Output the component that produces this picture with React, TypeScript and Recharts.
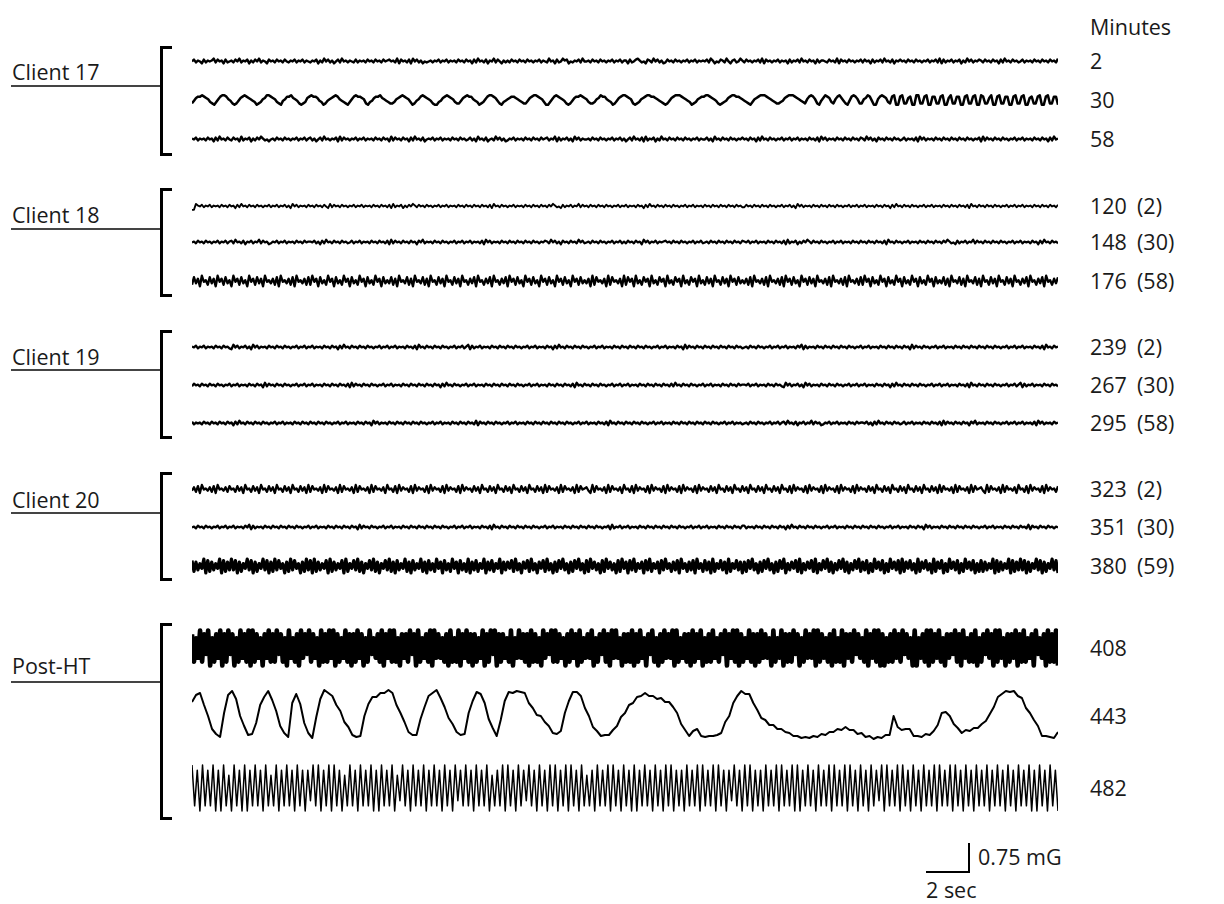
import React from 'react';
import { LineChart, Line, XAxis, YAxis } from 'recharts';

// right-hand labels (minutes), in trace order
const minuteLabels = ['2', '30', '58', '120', '148', '176', '239', '267', '295', '323', '351', '380', '408', '443', '482'];
const minuteNotes = ['', '', '', '(2)', '(30)', '(58)', '(2)', '(30)', '(58)', '(2)', '(30)', '(59)', '', '', ''];
const groupNames = ['Client 17', 'Client 18', 'Client 19', 'Client 20', 'Post-HT'];

// traces (digit strings: one sample per char)
const c17m2 =
  '46354263545736452634' + '53647354625364735426' + '45364536435463546354' + '35462537463524637453' +
  '54363545364536453645' + '64537264536274635243' + '45354635463545364536' + '45263745362547364253' +
  '53645364536453546354' + '37452634756243546374' + '45364536453546354635' + '52634675342653746352' +
  '36453645354635463545' + '46375243653742563475' + '36453546372645354635' + '45263546374536452635' +
  '54364537264536453546' + '36452635463745362546' + '45364536453546354637' + '26354635462537463546' +
  '53645364526374536453' + '46354536453645364537';
const c17m30 =
  '24677876532' + '13578875421' + '24678765431' + '23568876532' + '14577865421' + '23678776431' +
  '24567875432' + '13578776521' + '34677865432' + '23567876531' + '24578765421' + '13467876532' +
  '24678775431' + '23578876421' + '34567765432' + '24678876531' + '13578765421' + '24677876532' +
  '23568775431' + '24678876521' +
  '23567887765432' + '12467888765431' + '23567788765421' + '23467887765432' + '13567888765432' + '2346788876543' +
  '2578752' + '1468763' + '2578642' + '1478752' + '2568741' + '1578763' +
  '2781' + '1782' + '2671' + '1882' + '2781' + '1772' + '2781' + '1682' + '2771' + '1782' + '2781' +
  '1872' + '2681' + '1782' + '2771' + '1782' + '2781' + '1672' + '2781' + '1782' + '2771';
const c17m58 =
  '54635453645263745364' + '36452735462536475342' + '45364536453546354635' + '63524637453546273645' +
  '35463546354536453645' + '27364536452637453624' + '54635463545364536453' + '46352745362453746352' +
  '35463545364536453645' + '63547263546352746354' + '45364536453546354635' + '24637453627354625374' +
  '53645364536453546354' + '46352745364536453546' + '45364526374536453546' + '35463546354536453627' +
  '46354536453645364536' + '53746352645364536453' + '46354536274635453645' + '36453645364536453546' +
  '27364536453645354635' + '46354536453645263745';
const c18m120 =
  '00754635463545364536' + '45263745364536453546' + '35463546352746354536' + '45364536427364536453' +
  '54635463545364536453' + '62735462536475364536' + '45354635463545364536' + '45364536453627453645' +
  '35463545364536453645' + '36475342635463547364' + '53645364536453546354' + '63545364526374536453' +
  '64536453546354635453' + '64536453645364536453' + '36453645364536453546' + '35463527463545364536' +
  '45364536453546354635' + '46354536453645263745' + '36453645354635463545' + '36453645364536274536' +
  '45364536453546354635' + '46354536453645364536';
const c18m148 =
  '45364536453546354635' + '63745362546354736452' + '35463546354536453645' + '54635263745364536453' +
  '46354635453645364536' + '27364536453645264735' + '45364536453546354635' + '46354536274635453645' +
  '36453645364536453546' + '53746352645364537463' + '45364536453546354635' + '36453645274635463545' +
  '64536453645354635463' + '45364536453645364536' + '54635463545364536453' + '62735462536475364536' +
  '45354635463545364536' + '45364536453627453645' + '35463545364536453645' + '36475342635463547364' +
  '53645364536453546354' + '63545364526374536453';
const c18m176 =
  '27361845273618462735' + '18462735184627361845' + '36271845362718453627' + '28461735284617352846' +
  '17352846173528461735' + '37261845372618453726' + '18452736184527361845' + '26371845263718452637' +
  '18462735184627351846' + '27351846273518462735' + '36182745361827453618' + '27461835274618352746' +
  '18352746183527461835' + '27361845273618462735' + '36271845362718453627' + '18462735184627361845' +
  '36271845362718453627' + '28461735284617352846' + '17352846173528461735' + '37261845372618453726' +
  '18452736184527361845' + '26371845263718452637';
const c19m239 =
  '54635463545364536453' + '27463546352746354536' + '45364536453546354635' + '46354536453645263745' +
  '36453645364535463546' + '35463545364536274536' + '45364536453546354635' + '72635463545364536453' +
  '64536453546354635453' + '64526374536453645364' + '53546354635453645364' + '53645364536453546354' +
  '63545364527364536453' + '64536453645364536453' + '45364536453546354635' + '46354536472635453645' +
  '36453645364536453546' + '35463545364536453645' + '36452736453645354635' + '46354536453645364536' +
  '45364536453546354635' + '46354536453627453645';
const c19m267 =
  '36453645364536453546' + '35463545364536452736' + '45364536453546354635' + '46354536453645364536' +
  '27364536453645354635' + '46354536453645364536' + '45364526374536453546' + '35463545364536453645' +
  '36453645354635463545' + '36453645364536274536' + '45364536453546354635' + '46354536453645364536' +
  '45363745364536453546' + '35463545364536453645' + '54635463545364536453' + '27463546352746354536' +
  '45364536453546354635' + '46354536453645263745' + '36453645364535463546' + '35463545364536274536' +
  '45364536453546354635' + '72635463545364536453';
const c19m295 =
  '63545364536453645364' + '52637453645364536453' + '54635463545364536453' + '64536453645354635463' +
  '54536453645274635453' + '64536453645364536453' + '54635463545364536453' + '64537264536453645354' +
  '63546354536453645364' + '53645364536453546354' + '63545364536274536453' + '64536453645354635463' +
  '54536453645364536453' + '64536453546354635453' + '45364536453546354635' + '63745362546354736452' +
  '35463546354536453645' + '54635263745364536453' + '46354635453645364536' + '27364536453645264735' +
  '45364536453546354635' + '46354536274635453645';
const c20m323 =
  '36271845362718453627' + '45273618452736184527' + '36184527361845273618' + '27453618274536182745' +
  '36182745361827453618' + '45271836452718364527' + '18364527183645271836' + '45273618452736184527' +
  '36184527361845273618' + '27453618274536182745' + '63182745361827453618' + '45271836452718364527' +
  '18364527183645271836' + '45273618452736184527' + '36184527361845273618' + '45271836452718364527' +
  '18364527183645271836' + '45273618452736184527' + '36184527361845273618' + '27453618274536182745' +
  '63182745361827453618' + '45271836452718364527';
const c20m351 =
  '45364536453546354635' + '46354536472635453645' + '36453645364536453546' + '35463545364536453645' +
  '36452736453645354635' + '46354536453645364536' + '45364536453546354635' + '46354536453627453645' +
  '36453645364536453546' + '35463545364536453645' + '36453645354627354635' + '46354536453645364536' +
  '45364536453546354635' + '46354536453645364536' + '63545364536453645364' + '52637453645364536453' +
  '54635463545364536453' + '64536453645354635463' + '54536453645274635453' + '64536453645364536453' +
  '54635463545364536453' + '64537264536453645354';
const c20m380 =
  '81726390817263908172' + '92807163928071639280' + '71928360719283607192' + '80917263809172638091' +
  '63829170638291706382' + '91708263917082639170' + '82619370826193708261' + '90728163907281639072' +
  '73819260738192607381' + '92607183926071839260' + '81937260819372608193' + '70829163708291637082' +
  '93617280936172809361' + '82709163827091638270' + '71839260718392607183' + '90627381906273819062' +
  '83917062839170628391' + '72806193728061937280' + '91738260917382609173' + '80619372806193728061' +
  '81726390817263908172' + '92807163928071639280';
const postM408 =
  '8172918390' + '7182908193' + '8071928190' + '9182708291' + '8193817092' + '7180928391' + '8270918192' +
  '9081729180' + '8192807193' + '7281908291' + '9170828193' + '8091728190' + '9282718091' + '7190829180' +
  '8172908193' + '9081827190' + '7292818091' + '8170928391' + '9182708192' + '8091728290' + '7183918092' +
  '9270818190' + '8192708391' + '7081928290' + '9172818091' + '8290718192' + '7183908291' + '9081729180' +
  '8192827091' + '7290818193' + '8071928290' + '9182718091' + '7190828193' + '8271908291' + '9080718192' +
  '8193827090' + '7281909182' + '9170828391' + '8092718190' + '7183928091' + '9270818290' + '8191728093' +
  '7280918190';
const postM443 = [
  40, 47, 49, 37, 26, 13, 8, 5, 29, 47, 51, 43, 26, 16, 7, 8, 19, 37, 45, 51,
  42, 31, 16, 9, 5, 39, 48, 38, 19, 9, 4, 25, 43, 52, 49, 46, 37, 31, 20, 15,
  7, 5, 6, 26, 38, 45, 45, 49, 49, 52, 49, 37, 29, 20, 10, 7, 7, 23, 35, 46,
  49, 52, 44, 35, 24, 18, 10, 7, 8, 29, 41, 50, 48, 39, 23, 14, 6, 22, 41, 50,
  49, 51, 50, 49, 39, 34, 27, 26, 20, 16, 9, 8, 11, 29, 41, 50, 50, 46, 34, 26,
  15, 11, 6, 7, 7, 12, 16, 25, 29, 37, 39, 45, 46, 49, 46, 46, 43, 44, 40, 40,
  35, 29, 18, 12, 6, 11, 13, 6, 5, 6, 6, 7, 9, 20, 26, 39, 46, 51, 48, 48,
  39, 32, 24, 22, 17, 17, 13, 13, 10, 9, 6, 6, 4, 5, 4, 6, 5, 8, 7, 10,
  10, 13, 12, 15, 12, 12, 8, 9, 5, 6, 3, 5, 4, 7, 7, 26, 15, 12, 13, 13,
  6, 6, 5, 8, 7, 11, 17, 29, 30, 26, 18, 14, 9, 12, 11, 14, 14, 18, 21, 28,
  35, 45, 48, 51, 50, 51, 46, 44, 34, 29, 22, 16, 6, 6, 5, 4, 10,
];
const postM482 =
  '9180918190' + '8091709180' + '9081918091' + '7190819180' + '9180829190' + '8190918071' + '9180918190' +
  '8091819072' + '9180918190' + '8191809180' + '9281918091' + '8190718190' + '9180918291' + '8091809190' +
  '8190918091' + '7180918190' + '9180918090' + '8191809180' + '9190818091' + '8190918190' + '9180829180' +
  '9190818091' + '8190918190' + '9081918091' + '8190918190' + '9180918091' + '8290918190' + '9180918091' +
  '8190918190' + '9180918091' + '8190819180' + '9180918190' + '8091809180';

const digits = (s: string) => s.split('').map(Number);

const traces = [
  { values: digits(c17m2), cy: 61, gain: 0.95, sw: 2.4, mid: 4.5, h: 30 },
  { values: digits(c17m30), cy: 100, gain: 1.35, sw: 2.5, mid: 4.5, h: 30 },
  { values: digits(c17m58), cy: 139, gain: 0.95, sw: 2.4, mid: 4.5, h: 30 },
  { values: digits(c18m120), cy: 206, gain: 0.85, sw: 1.9, mid: 4.5, h: 30 },
  { values: digits(c18m148), cy: 242, gain: 0.9, sw: 2.2, mid: 4.5, h: 30 },
  { values: digits(c18m176), cy: 281, gain: 1.5, sw: 2.4, mid: 4.5, h: 30 },
  { values: digits(c19m239), cy: 347, gain: 0.9, sw: 2.3, mid: 4.5, h: 30 },
  { values: digits(c19m267), cy: 385, gain: 0.9, sw: 2.3, mid: 4.5, h: 30 },
  { values: digits(c19m295), cy: 423, gain: 0.9, sw: 2.4, mid: 4.5, h: 30 },
  { values: digits(c20m323), cy: 489, gain: 1.15, sw: 2.3, mid: 4.5, h: 30 },
  { values: digits(c20m351), cy: 527, gain: 0.9, sw: 2.3, mid: 4.5, h: 30 },
  { values: digits(c20m380), cy: 566, gain: 1.55, sw: 3.2, mid: 4.5, h: 30 },
  { values: digits(postM408), cy: 648, gain: 3.9, sw: 4.6, mid: 4.5, h: 60 },
  { values: postM443, cy: 716, gain: 1.0, sw: 2.0, mid: 26, h: 70 },
  { values: digits(postM482), cy: 788, gain: 5.1, sw: 1.5, mid: 4.5, h: 70 },
];

const groups = [
  { top: 46, bottom: 156, lineY: 85, textY: 72 },
  { top: 188, bottom: 297, lineY: 228, textY: 215 },
  { top: 330, bottom: 439, lineY: 369, textY: 357 },
  { top: 472, bottom: 581, lineY: 512, textY: 500 },
  { top: 623, bottom: 820, lineY: 681, textY: 666 },
];

const FONT = '"Open Sans", "DejaVu Sans", sans-serif';
const FONT_SIZE = 21.5;
const TRACE_LEFT = 192;
const TRACE_WIDTH = 866;
const LABEL_X = 1090;

const Trace = ({ t }: any) => {
  const data = t.values.map((v: number, i: number) => ({ i, v }));
  const half = t.h / 2 / t.gain;
  return (
    <div style={{ position: 'absolute', left: TRACE_LEFT, top: t.cy - t.h / 2 }}>
      <LineChart width={TRACE_WIDTH} height={t.h} data={data} margin={{ top: 0, right: 0, bottom: 0, left: 0 }}>
        <XAxis dataKey="i" type="number" domain={[0, data.length - 1]} hide />
        <YAxis domain={[t.mid - half, t.mid + half]} hide />
        <Line
          dataKey="v"
          type="linear"
          stroke="#000"
          strokeWidth={t.sw}
          strokeLinejoin="round"
          dot={false}
          isAnimationActive={false}
        />
      </LineChart>
    </div>
  );
};

const text = (left: number, cy: number, s: string, size = FONT_SIZE) => (
  <div
    key={`${s}-${left}-${cy}`}
    style={{
      position: 'absolute',
      left,
      top: cy - size * 0.7,
      fontFamily: FONT,
      fontSize: size,
      lineHeight: `${size * 1.4}px`,
      color: '#1a1a1a',
      whiteSpace: 'nowrap',
    }}
  >
    {s}
  </div>
);

export default function App() {
  return (
    <div style={{ position: 'absolute', left: 0, top: 0, width: 1224, height: 904, background: '#fff', overflow: 'hidden' }}>
      {groups.map((g, k) => (
        <React.Fragment key={groupNames[k]}>
          {text(12, g.textY, groupNames[k])}
          <div style={{ position: 'absolute', left: 11, top: g.lineY, width: 151, height: 1.5, background: '#444' }} />
          <div
            style={{
              position: 'absolute',
              left: 160,
              top: g.top,
              width: 9,
              height: g.bottom - g.top - 6,
              borderLeft: '3.5px solid #000',
              borderTop: '3px solid #000',
              borderBottom: '3px solid #000',
            }}
          />
        </React.Fragment>
      ))}

      {traces.map((t, k) => (
        <Trace key={minuteLabels[k]} t={t} />
      ))}

      {text(LABEL_X, 27, 'Minutes')}
      {traces.map((t, k) => (
        <React.Fragment key={`lab-${k}`}>
          {text(LABEL_X, t.cy, minuteLabels[k])}
          {minuteNotes[k] ? text(LABEL_X + 47, t.cy, minuteNotes[k]) : null}
        </React.Fragment>
      ))}

      {/* scale bar */}
      <div style={{ position: 'absolute', left: 968, top: 843, width: 2, height: 30, background: '#000' }} />
      <div style={{ position: 'absolute', left: 926, top: 871, width: 44, height: 2, background: '#000' }} />
      {text(978, 857, '0.75 mG')}
      {text(926, 890, '2 sec')}
    </div>
  );
}
